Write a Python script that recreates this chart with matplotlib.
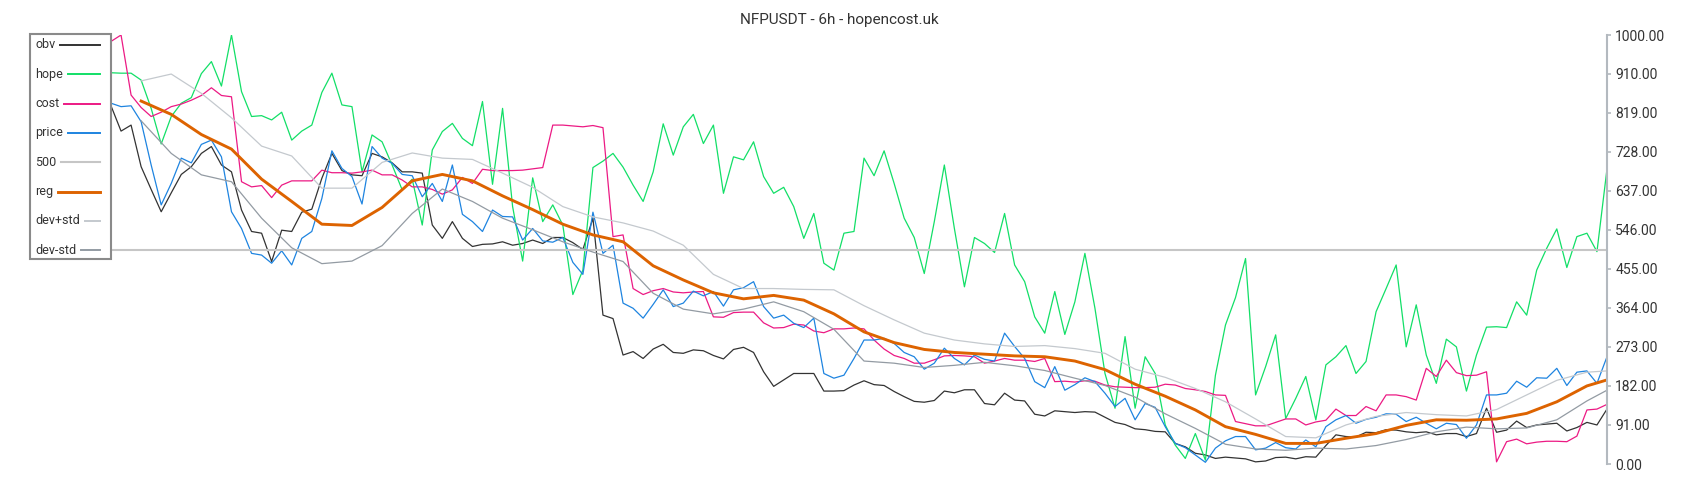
import numpy as np
import matplotlib.pyplot as plt
from matplotlib.lines import Line2D

plt.rcParams['font.family'] = ['Roboto', 'DejaVu Sans']

title = 'NFPUSDT - 6h - hopencost.uk'

# noisy series, one value per bar (150 bars)
obv = [835, 776, 790, 693, 640, 588, 632, 675, 693, 724, 740, 697, 681, 592, 542, 538, 472, 545, 542, 587,
       594, 666, 724, 684, 674, 672, 724, 716, 702, 681,
       681, 678, 557, 526, 565, 526, 507, 512, 513, 518, 510, 514, 522, 514, 528, 528, 516, 500, 573, 347,
       339, 254, 262, 246, 268, 279, 260, 258, 266,
       264, 253, 245, 267, 272, 260, 215, 181, 196, 211, 211, 211, 170, 170, 171, 184, 194, 185, 183, 169,
       157, 146, 144, 148, 170, 166, 173, 173, 141, 138,
       165, 149, 147, 116, 112, 124, 122, 120, 122, 121, 109, 97, 92, 82, 80, 76, 75, 48, 40, 25,
       21, 13, 16, 14, 12, 5, 7, 15, 16, 12,
       17, 16, 43, 68, 64, 63, 74, 73, 80, 79, 75, 73, 75, 68, 71, 71, 64, 71, 130, 74,
       79, 100, 85, 91, 93, 95, 77, 85, 97, 91, 128]

hope = [912, 911, 911, 895, 829, 746, 810, 841, 854, 910, 938, 881, 1000, 868, 810, 812, 802, 820, 755, 776,
        790, 866, 911, 837, 833, 681, 767, 751, 697, 639,
        664, 557, 732, 775, 794, 759, 742, 845, 652, 829, 600, 473, 667, 565, 604, 557, 395, 452, 691, 706,
        724, 692, 650, 612, 681, 793, 720, 786, 815,
        747, 790, 631, 716, 709, 751, 670, 631, 645, 600, 526, 584, 468, 452, 538, 542, 713, 672, 730, 654,
        573, 528, 444, 565, 697, 549, 413, 528, 514, 493,
        584, 464, 425, 343, 305, 402, 302, 378, 491, 363, 211, 130, 297, 130, 250, 211, 91, 44, 13, 71,
        9, 207, 324, 388, 479, 161, 227, 301, 106, 153,
        204, 103, 231, 250, 276, 211, 239, 355, 409, 464, 273, 371, 254, 188, 291, 273, 170, 254, 319, 320,
        318, 378, 347, 452, 503, 548, 458, 530, 538, 495, 688]

cost = [985, 1000, 860, 831, 810, 820, 833, 839, 848, 859, 877, 859, 856, 658, 646, 649, 621, 650, 660, 660,
        660, 685, 679, 679, 678, 681, 685, 674, 674, 662,
        646, 646, 640, 629, 639, 668, 654, 687, 684, 684, 684, 685, 688, 691, 790, 790, 788, 786, 789, 784,
        530, 534, 409, 395, 404, 409, 401, 399, 401,
        402, 343, 342, 353, 354, 354, 329, 317, 318, 326, 324, 310, 306, 315, 315, 317, 315, 289, 268, 253,
        246, 235, 235, 243, 252, 253, 252, 250, 235, 240,
        246, 242, 242, 239, 246, 192, 193, 191, 194, 193, 184, 180, 179, 178, 178, 179, 186, 184, 176, 173,
        169, 161, 160, 99, 94, 89, 89, 97, 105, 105,
        91, 98, 102, 128, 113, 113, 134, 124, 161, 161, 157, 149, 223, 204, 242, 213, 206, 207, 215, 5,
        52, 58, 47, 51, 53, 53, 52, 65, 126, 128, 139]

price = [841, 833, 835, 798, 697, 604, 654, 713, 702, 745, 755, 716, 588, 549, 491, 487, 468, 497, 464, 526,
         542, 619, 730, 689, 670, 606, 740, 713, 701, 675,
         672, 623, 654, 612, 697, 582, 565, 542, 592, 577, 576, 522, 549, 520, 517, 528, 470, 442, 587, 491,
         510, 375, 363, 340, 372, 406, 367, 375, 403,
         392, 402, 368, 406, 411, 425, 367, 340, 347, 328, 318, 340, 211, 200, 207, 246, 289, 289, 293, 281,
         260, 250, 221, 235, 270, 246, 231, 254, 244, 240,
         305, 274, 246, 192, 178, 227, 172, 185, 201, 192, 165, 134, 153, 103, 141, 132, 87, 48, 38, 21,
         4, 37, 54, 64, 64, 33, 37, 50, 38, 35,
         56, 40, 87, 103, 113, 95, 104, 109, 117, 116, 99, 109, 95, 82, 95, 92, 60, 91, 161, 161,
         165, 193, 179, 201, 200, 223, 183, 214, 217, 188, 250]

level = 500

# smooth series, read every third bar
smooth_idx = list(range(3, 148, 3)) + [149]
reg = [846, 815, 768, 734, 664, 612, 559, 556, 598,
       660, 675, 660, 625, 593, 559, 534, 518, 462, 429,
       399, 385, 393, 382, 350, 308, 283, 267, 260, 256,
       252, 250, 240, 220, 186, 158, 126, 87, 69, 48,
       48, 60, 71, 90, 103, 102, 105, 118, 145, 182, 196]
dev_plus = [893, 909, 864, 807, 741, 718, 643, 643, 703,
            725, 713, 710, 678, 645, 600, 576, 562, 543, 510,
            442, 409, 409, 407, 406, 369, 336, 305, 289, 280,
            274, 276, 269, 258, 221, 202, 176, 145, 105, 64,
            61, 91, 111, 120, 115, 112, 127, 161, 195, 214, 217]
dev_minus = [800, 724, 674, 658, 573, 504, 467, 473, 509,
             584, 641, 612, 573, 546, 518, 494, 472, 398, 361,
             350, 361, 378, 355, 314, 240, 235, 225, 230, 237,
             229, 218, 200, 183, 156, 117, 83, 46, 35, 32,
             37, 35, 43, 57, 75, 86, 82, 84, 103, 147, 172]

yticks = [0, 91, 182, 273, 364, 455, 546, 637, 728, 819, 910, 1000]

W, H = 1700, 500
x = np.arange(len(obv))

fig = plt.figure(figsize=(W / 100, H / 100), dpi=100)
ax = fig.add_axes([111 / W, 36 / H, 1496 / W, 429 / H])

lines = []
lines += ax.plot(x, obv, color='#333333', lw=0.9, label='obv')
lines += ax.plot(x, hope, color='#12df67', lw=0.9, label='hope')
lines += ax.plot(x, cost, color='#ec1a84', lw=0.9, label='cost')
lines += ax.plot(x, price, color='#1e84e0', lw=0.9, label='price')
lines.append(ax.axhline(level, color='#c6c6c6', lw=1.5, label='500'))
lines += ax.plot(smooth_idx, reg, color='#dd6300', lw=2.1, label='reg')
lines += ax.plot(smooth_idx, dev_plus, color='#c4c9ce', lw=0.9, label='dev+std')
lines += ax.plot(smooth_idx, dev_minus, color='#939ba3', lw=0.9, label='dev-std')

ax.set_xlim(0, len(obv) - 1)
ax.set_ylim(0, 1000)
ax.set_xticks([])
ax.set_yticks(yticks)
ax.set_yticklabels([f'{v:.2f}' for v in yticks])
ax.yaxis.tick_right()
ax.tick_params(axis='y', direction='out', length=3, width=1.2, color='#b3b9bf',
               labelsize=10, labelcolor='#333333', pad=3)
for side in ['top', 'left', 'bottom']:
    ax.spines[side].set_visible(False)
ax.spines['right'].set_color('#b3b9bf')
ax.spines['right'].set_linewidth(1.5)

fig.text(839 / W, 1 - 20 / H, title, ha='center', va='center', fontsize=11, color='#333333')

# legend box drawn by hand: labels left, line handles running to a common right edge
renderer = fig.canvas.get_renderer()
fig.add_artist(plt.Rectangle((30 / W, 1 - 259 / H), 81 / W, 225 / H, transform=fig.transFigure,
                             facecolor='white', edgecolor='#8a8a8a', lw=1.5, zorder=5))
for k, ln in enumerate(lines):
    yc = 1 - (45 + k * 29.3) / H
    t = fig.text(35 / W, yc, ln.get_label(), ha='left', va='center', fontsize=9,
                 color='#333333', zorder=6)
    x0 = t.get_window_extent(renderer).x1 + 5
    fig.add_artist(Line2D([x0 / W, 100 / W], [yc, yc], transform=fig.transFigure,
                          color=ln.get_color(), lw=max(ln.get_linewidth(), 1.4), zorder=6))

fig.savefig('out.png', dpi=100)
